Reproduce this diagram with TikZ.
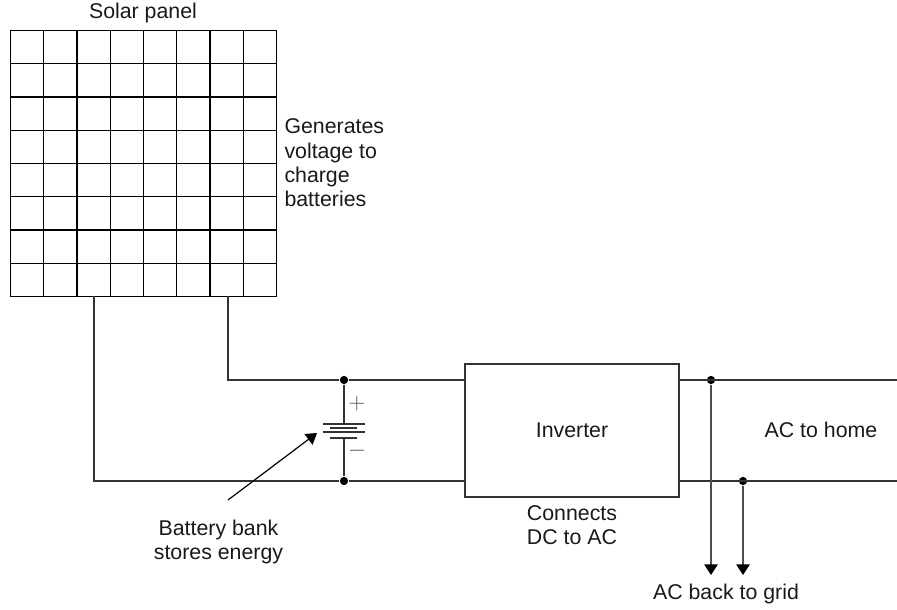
\documentclass[tikz,border=0pt]{standalone}
\usepackage{fontspec}
\setmainfont{Liberation Sans}
\usetikzlibrary{arrows.meta}

\tikzset{every picture/.style={line width=0.75pt}}
\tikzset{
  label text/.style={inner sep=0.75pt,align=left,font=\fontsize{16}{18.2}\selectfont,text=black!90},
  wire/.style={line width=1.1pt,draw=black!80},
  plate/.style={line width=1pt,draw=black!80},
  feed/.style={line width=1.4pt,draw=black!70,-{Triangle[length=8pt,width=10pt,color=black]}},
  pointer/.style={line width=0.9pt,draw=black,-{Triangle[length=8pt,width=10pt]}},
  junction/.style={circle,fill=black,inner sep=0pt,minimum size=6.2pt},
}

\begin{document}
\begin{tikzpicture}[x=0.75pt,y=0.75pt,yscale=-1,xscale=1]
\useasboundingbox (0,0) rectangle (897,610);

%Solar panel
\foreach \i in {0,...,8} {
  \draw [line width=0.9pt] (10.5+33.25*\i,30.5) -- (10.5+33.25*\i,296.5) ;
  \draw [line width=0.9pt] (10.5,30.5+33.25*\i) -- (276.5,30.5+33.25*\i) ;
}
\coordinate (panelA) at (94,296);
\coordinate (panelB) at (228,296);

%Inverter
\node (inverter) at (572,430.5) [draw=black!80,line width=1.1pt,minimum width=160.5pt,minimum height=99.75pt,inner sep=0pt,font=\fontsize{16}{18.2}\selectfont,text=black!90] {Inverter};

%Junctions
\node (dotTop) at (344,380) [junction] {};
\node (dotBot) at (344,481) [junction] {};
\node (dotGridA) at (711,380) [junction] {};
\node (dotGridB) at (743,481) [junction] {};

%Wire ends
\coordinate (invTopL) at (465,380);
\coordinate (invBotL) at (465,481);
\coordinate (invTopR) at (679,380);
\coordinate (invBotR) at (679,481);
\coordinate (homeTop) at (897,380);
\coordinate (homeBot) at (897,481);
\coordinate (gridA) at (711,575);
\coordinate (gridB) at (743,575);
\coordinate (batTop) at (344,424);
\coordinate (batBot) at (344,438);
\coordinate (pointerA) at (228,500);
\coordinate (pointerB) at (317,433);

%Straight Lines
\draw [wire] (panelB) |- (dotTop) -- (invTopL) ;
\draw [wire] (panelA) |- (dotBot) -- (invBotL) ;
\draw [wire] (invTopR) -- (homeTop) ;
\draw [wire] (invBotR) -- (homeBot) ;
\draw [feed] (dotGridA) -- (gridA) ;
\draw [feed] (dotGridB) -- (gridB) ;
\draw [wire] (dotTop) -- (batTop) ;
\draw [wire] (dotBot) -- (batBot) ;
\draw [pointer] (pointerA) -- (pointerB) ;

%Battery
\draw [plate] (323,424) -- (365,424) ;
\draw [plate] (330,428) -- (357,428) ;
\draw [plate] (323,432) -- (365,432) ;
\draw [plate] (330,438) -- (357,438) ;

% Text Node
\node (solarLabel) at (143,13) [label text] {Solar panel};
% Text Node
\node (generatesLabel) at (283,117.5) [anchor=north west,label text] {Generates\\voltage to\\charge\\batteries};
% Text Node
\node (plusLabel) at (357,404) [label text,text=black!70] {$+$};
% Text Node
\node (minusLabel) at (357,451) [label text,text=black!70] {$-$};
% Text Node
\node (batteryLabel) at (218.5,542) [label text,align=center] {Battery bank\\stores energy};
% Text Node
\node (connectsLabel) at (572,525) [label text,align=center] {Connects\\DC to AC};
% Text Node
\node (homeLabel) at (821,429.5) [label text] {AC to home};
% Text Node
\node (gridLabel) at (726,593.5) [label text] {AC back to grid};

\end{tikzpicture}
\end{document}
